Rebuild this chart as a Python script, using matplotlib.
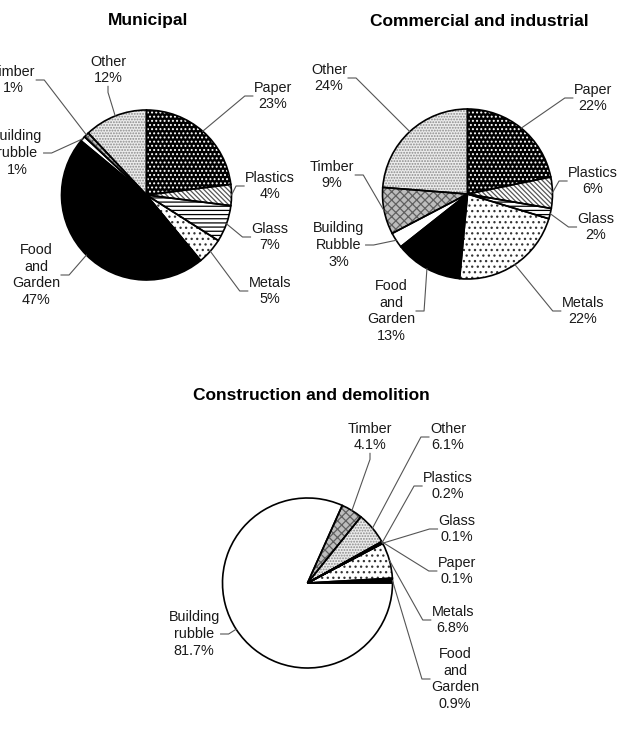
import matplotlib
matplotlib.use("Agg")
import matplotlib.pyplot as plt
import numpy as np

plt.rcParams['font.family'] = ['Liberation Sans', 'DejaVu Sans']
plt.rcParams['hatch.linewidth'] = 0.9

W, H = 623, 749

categories = ["Paper", "Plastics", "Glass", "Metals", "Food and Garden",
              "Building rubble", "Timber", "Other"]

municipal = [23, 4, 7, 5, 47, 1, 1, 12]
commercial = [22, 6, 2, 22, 13, 3, 9, 24]
construction = [0.1, 0.2, 0.1, 6.8, 0.9, 81.7, 4.1, 6.1]

mun_names = ["Paper", "Plastics", "Glass", "Metals", "Food\nand\nGarden",
             "Building\nrubble", "Timber", "Other"]
com_names = ["Paper", "Plastics", "Glass", "Metals", "Food\nand\nGarden",
             "Building\nRubble", "Timber", "Other"]
con_names = mun_names

# fill, hatch, hatch colour for each category
styles = [
    ("black", "....", "white"),
    ("white", "\\" * 7, "#555555"),
    ("white", "----", "black"),
    ("white", "...", "#333333"),
    ("black", None, "black"),
    ("white", None, "white"),
    ("#bdbdbd", "xxxx", "#606060"),
    ("#ececec", "......", "#8a8a8a"),
]

R = 85


def Y(y):
    return H - y


def draw_pie(ax, values, names, fmt, center, start, title, title_pos,
             label_pos, bottom=()):
    cx, cy = center[0], Y(center[1])
    wedges, _ = ax.pie(values, center=(cx, cy), radius=R, startangle=start,
                       counterclock=False, wedgeprops=dict(linewidth=0))
    for w, (fc, h, hc) in zip(wedges, styles):
        w.set_facecolor(fc)
        w.set_edgecolor(hc)
        w.set_hatch(h)
    ax.pie(values, center=(cx, cy), radius=R, startangle=start,
           counterclock=False,
           wedgeprops=dict(fill=False, edgecolor="black", linewidth=1.2))

    ax.text(title_pos[0], Y(title_pos[1]), title, ha="center", va="center",
            fontsize=12.5, fontweight="bold")

    items = []
    for i, (w, name, v) in enumerate(zip(wedges, names, values)):
        lab = name + "\n" + (fmt % v) + "%"
        tx, ty = label_pos[i]
        t = ax.text(tx, Y(ty), lab, ha="center", va="center", fontsize=10.4,
                    linespacing=1.25, color="#1a1a1a")
        items.append((w, t, i in bottom))
    return (cx, cy), items


fig = plt.figure(figsize=(W / 100, H / 100), dpi=100)
ax = fig.add_axes([0, 0, 1, 1])

pies = []
pies.append(draw_pie(ax, municipal, mun_names, "%d", (146.5, 195), 90,
                     "Municipal", (148, 21),
                     [(273, 96), (270, 186), (270, 237), (270, 291),
                      (36, 275), (17, 153), (13, 80), (108, 70)],
                     bottom=(7,)))
pies.append(draw_pie(ax, commercial, com_names, "%d", (467.5, 194), 90,
                     "Commercial and industrial", (479, 22),
                     [(593, 98), (593, 181), (596, 227), (583, 311),
                      (391, 311), (339, 245), (332, 175), (329, 78)]))
# paper starts where the first five slices end at 3 o'clock
start3 = 360 * sum(construction[:5]) / sum(construction)
pies.append(draw_pie(ax, construction, con_names, "%.1f", (307.5, 583), start3,
                     "Construction and demolition", (311, 395),
                     [(457, 571), (448, 486), (457, 529), (453, 620),
                      (455, 679), (194, 634), (370, 437), (448, 437)],
                     bottom=(6,)))

ax.set_xlim(0, W)
ax.set_ylim(0, H)
ax.set_aspect("auto")
ax.axis("off")

fig.canvas.draw()
r = fig.canvas.get_renderer()
inv = ax.transData.inverted()
for (cx, cy), items in pies:
    for w, t, bot in items:
        mid = np.deg2rad((w.theta1 + w.theta2) / 2)
        sx, sy = cx + R * np.cos(mid), cy + R * np.sin(mid)
        bb = t.get_window_extent(r).transformed(inv)
        tcy = (bb.y0 + bb.y1) / 2
        if bot:
            ax_, ay_ = (bb.x0 + bb.x1) / 2, bb.y0 - 1
            kx, ky = ax_, ay_ - 6
        elif (bb.x0 + bb.x1) / 2 > cx:
            ax_, ay_ = bb.x0 - 1, tcy
            kx, ky = ax_ - 8, ay_
        else:
            ax_, ay_ = bb.x1 + 1, tcy
            kx, ky = ax_ + 8, ay_
        ax.plot([sx, kx, ax_], [sy, ky, ay_], color="#555555", lw=0.8)

fig.savefig("out.png", dpi=100)
